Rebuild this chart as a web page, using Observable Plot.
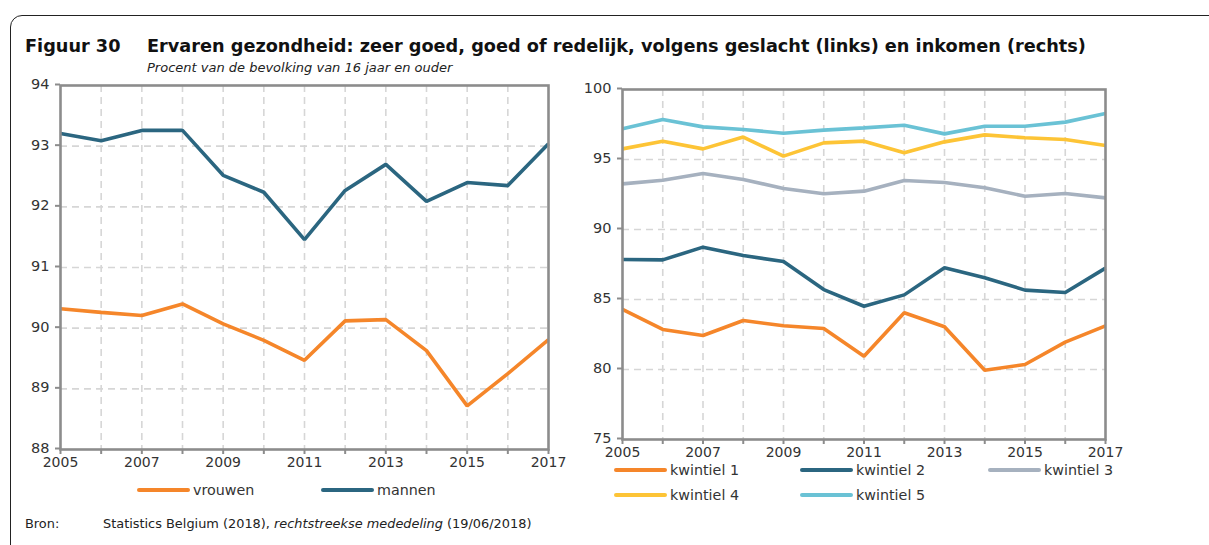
<!DOCTYPE html>
<html>
<head>
<meta charset="utf-8">
<script src="https://cdn.jsdelivr.net/npm/d3@7"></script>
<script src="https://cdn.jsdelivr.net/npm/@observablehq/plot@0.6"></script>
<style>
  html, body { margin: 0; padding: 0; background: #fff; }
  body { width: 1209px; height: 545px; position: relative; overflow: hidden; font-family: "DejaVu Sans", sans-serif; color: #333; }
  .frame { position: absolute; left: 10px; top: 15px; width: 1220px; height: 560px; border: 1.5px solid #222; border-radius: 12px; box-sizing: border-box; }
  .abs { position: absolute; white-space: nowrap; }
  .title { font-weight: bold; font-size: 17.7px; color: #111; top: 36px; }
  .subtitle { font-style: italic; font-size: 13px; left: 147px; top: 60px; color: #222; }
  .chart { position: absolute; }
  .leg { position: absolute; font-size: 14.3px; color: #333; display: flex; align-items: center; }
  .sw { width: 53px; height: 4px; border-radius: 2px; margin-right: 3px; }
  .src { font-size: 12.9px; top: 516px; color: #222; }
</style>
</head>
<body>
<div class="frame"></div>
<div class="abs title" style="left:25px">Figuur 30</div>
<div class="abs title" style="left:147px">Ervaren gezondheid: zeer goed, goed of redelijk, volgens geslacht (links) en inkomen (rechts)</div>
<div class="abs subtitle">Procent van de bevolking van 16 jaar en ouder</div>
<div id="left" class="chart" style="left:0px; top:75px"></div>
<div id="right" class="chart" style="left:580px; top:79px"></div>
<div id="legends"></div>
<div class="abs src" style="left:25px">Bron:</div>
<div class="abs src" style="left:103px">Statistics Belgium (2018), <i>rechtstreekse mededeling</i> (19/06/2018)</div>
<script>
const years = [2005, 2006, 2007, 2008, 2009, 2010, 2011, 2012, 2013, 2014, 2015, 2016, 2017];

// Left: by gender
const genderNames = ["vrouwen", "mannen"];
const vrouwen = [90.32, 90.26, 90.21, 90.40, 90.07, 89.80, 89.47, 90.12, 90.14, 89.63, 88.72, 89.25, 89.81];
const mannen  = [93.21, 93.09, 93.26, 93.26, 92.52, 92.24, 91.46, 92.27, 92.70, 92.09, 92.40, 92.35, 93.04];
const leftYTicks = [88, 89, 90, 91, 92, 93, 94];

// Right: by income quintile
const quintNames = ["kwintiel 1", "kwintiel 2", "kwintiel 3", "kwintiel 4", "kwintiel 5"];
const kwintiel1 = [84.29, 82.86, 82.43, 83.50, 83.12, 82.93, 80.95, 84.05, 83.05, 79.95, 80.36, 81.95, 83.12];
const kwintiel2 = [87.86, 87.83, 88.74, 88.14, 87.71, 85.71, 84.52, 85.33, 87.26, 86.55, 85.67, 85.50, 87.24];
const kwintiel3 = [93.26, 93.52, 94.00, 93.57, 92.93, 92.55, 92.74, 93.50, 93.36, 92.98, 92.38, 92.57, 92.26];
const kwintiel4 = [95.76, 96.31, 95.76, 96.60, 95.24, 96.19, 96.31, 95.48, 96.26, 96.76, 96.55, 96.43, 96.00];
const kwintiel5 = [97.19, 97.86, 97.33, 97.14, 96.88, 97.10, 97.26, 97.45, 96.83, 97.38, 97.38, 97.67, 98.29];
const rightYTicks = [75, 80, 85, 90, 95, 100];

const genderColors = ["#F5862A", "#2B6680"];
const quintColors = ["#F5862A", "#2B6680", "#A6B1BF", "#FDC436", "#6AC2D5"];

function toLong(names, arrays) {
  const out = [];
  names.forEach((n, i) => arrays[i].forEach((v, j) => out.push({series: n, year: years[j], value: v})));
  return out;
}

const axisColor = "#8c8c8c";
const gridColor = "#d6d6d6";
const innerYears = years.slice(1, -1);

function chart({width, height, margins, yDomain, yTicks, names, arrays, colors}) {
  const data = toLong(names, arrays);
  return Plot.plot({
    width, height,
    marginLeft: margins[3], marginRight: margins[1], marginTop: margins[0], marginBottom: margins[2],
    style: {fontFamily: "DejaVu Sans, sans-serif", fontSize: "14px", color: "#333", background: "transparent"},
    x: {domain: [2005, 2017], type: "linear", label: null},
    y: {domain: yDomain, label: null},
    color: {domain: names, range: colors},
    marks: [
      Plot.ruleX(innerYears, {stroke: gridColor, strokeWidth: 1.6, strokeDasharray: "7,5"}),
      Plot.ruleY(yTicks.slice(1, -1), {stroke: gridColor, strokeWidth: 1.6, strokeDasharray: "7,5"}),
      Plot.axisX({ticks: years, tickSize: 5, tickPadding: 3, stroke: axisColor, strokeWidth: 2, label: null,
        tickFormat: d => (d % 2 === 1 ? String(d) : ""), fill: "#333", fontSize: 14}),
      Plot.axisY({ticks: yTicks, tickSize: 5, tickPadding: 6, stroke: axisColor, strokeWidth: 2, label: null,
        tickFormat: d => String(d), fill: "#333", fontSize: 14.5, dy: -1}),
      Plot.line(data, {x: "year", y: "value", z: "series", stroke: "series", strokeWidth: 3.6, strokeLinejoin: "miter", strokeLinecap: "butt"}),
      Plot.frame({stroke: axisColor, strokeWidth: 2.6})
    ]
  });
}

document.getElementById("left").append(chart({
  width: 580, height: 400, margins: [10, 32, 26, 60],
  yDomain: [88, 94], yTicks: leftYTicks,
  names: genderNames, arrays: [vrouwen, mannen], colors: genderColors
}));

document.getElementById("right").append(chart({
  width: 560, height: 390, margins: [10, 35, 30, 42],
  yDomain: [75, 100], yTicks: rightYTicks,
  names: quintNames, arrays: [kwintiel1, kwintiel2, kwintiel3, kwintiel4, kwintiel5], colors: quintColors
}));

// Legends
const legendSpecs = [
  {names: genderNames, colors: genderColors, pos: [[137, 491], [321, 491]]},
  {names: quintNames, colors: quintColors, pos: [[614, 471], [800, 471], [988, 471], [614, 496], [800, 496]]}
];
const legHost = document.getElementById("legends");
legendSpecs.forEach(spec => {
  spec.names.forEach((n, i) => {
    const el = document.createElement("div");
    el.className = "leg";
    el.style.left = spec.pos[i][0] + "px";
    el.style.top = (spec.pos[i][1] - 9) + "px";
    el.innerHTML = `<div class="sw" style="background:${spec.colors[i]}"></div><span>${n}</span>`;
    legHost.append(el);
  });
});
</script>
</body>
</html>
